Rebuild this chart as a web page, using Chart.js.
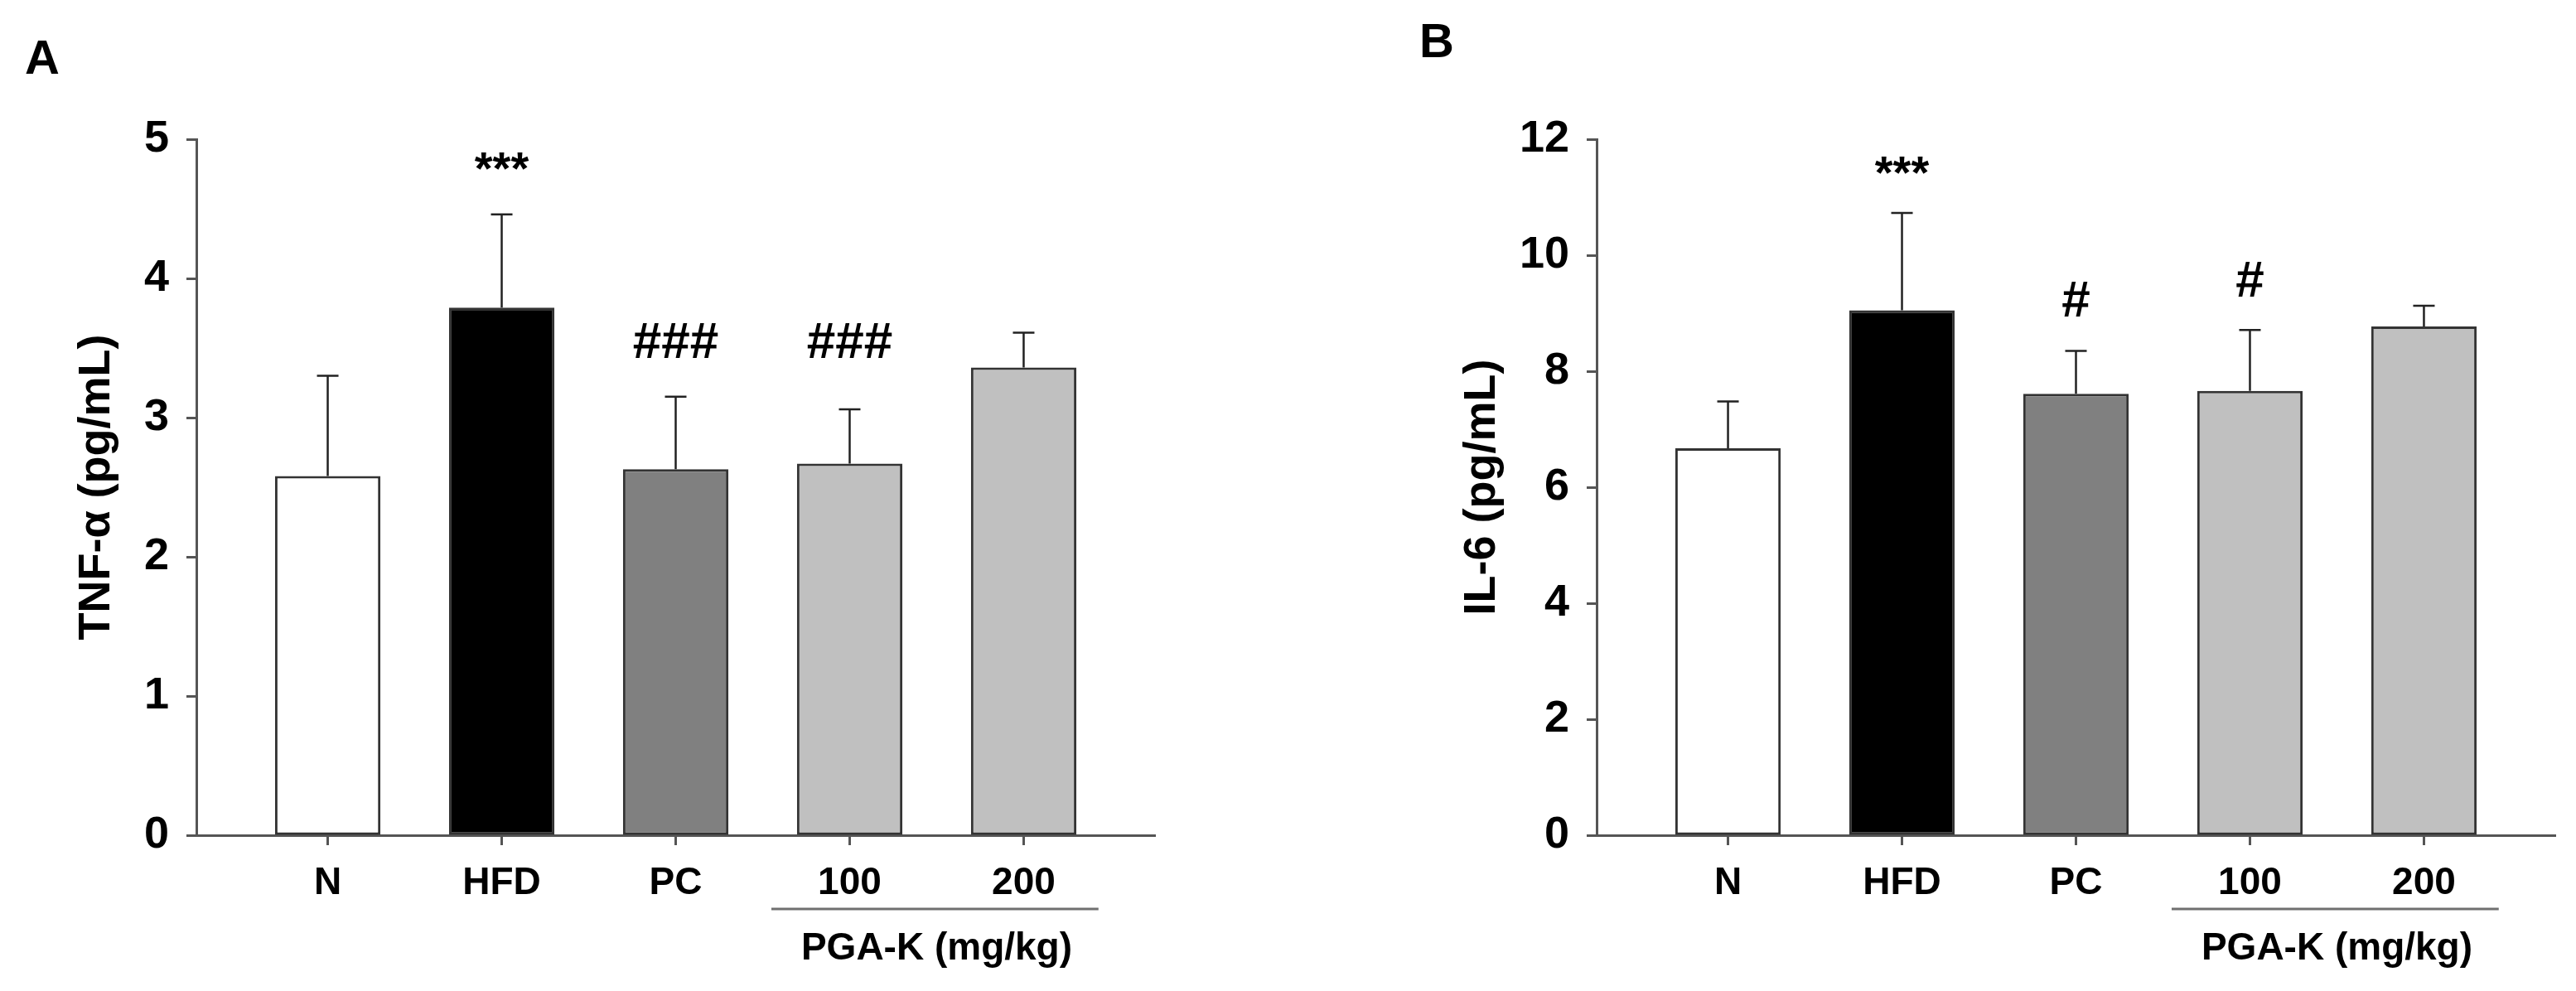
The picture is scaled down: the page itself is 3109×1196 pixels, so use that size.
<!DOCTYPE html>
<html>
<head>
<meta charset="utf-8">
<script src="https://cdn.jsdelivr.net/npm/chart.js@4.4.1/dist/chart.umd.min.js"></script>
<style>
    html, body { margin: 0; padding: 0; background: #fff; }
    body { width: 3109px; height: 1196px; position: relative; overflow: hidden; }
    canvas { position: absolute; top: 0; }
    .tag { position: absolute; font: bold 58px "Liberation Sans", Arial, sans-serif; line-height: 1; color: #000; }
</style>
</head>
<body>
<div class="tag" style="left:30px; top:40px;">A</div>
<div class="tag" style="left:1713px; top:20px;">B</div>
<canvas id="chartA" style="left:0px" width="1540" height="1196"></canvas>
<canvas id="chartB" style="left:1690px" width="1419" height="1196"></canvas>
<script>
// Groups on the x axis
const categories = ["N", "HFD", "PC", "100", "200"];
const groupLabel = "PGA-K (mg/kg)";

// Panel A: TNF-α, mean and upper SD
const tnfMean = [2.58, 3.79, 2.63, 2.67, 3.36];
const tnfSd = [0.72, 0.67, 0.52, 0.39, 0.25];
const tnfMarks = ["", "***", "###", "###", ""];
const tnfMarkLevel = [0, 4.68, 3.43, 3.43, 0];

// Panel B: IL-6, mean and upper SD
const il6Mean = [6.67, 9.05, 7.61, 7.66, 8.77];
const il6Sd = [0.81, 1.68, 0.74, 1.05, 0.36];
const il6Marks = ["", "***", "#", "#", ""];
const il6MarkLevel = [0, 11.16, 8.94, 9.29, 0];

const barFills = ["#ffffff", "#000000", "#808080", "#c0c0c0", "#c0c0c0"];
const FONT = "'Liberation Sans', Arial, sans-serif";
const AXIS = "#555555";

// error bars, significance marks and the PGA-K bracket
const extrasPlugin = {
    id: "extras",
    afterDatasetsDraw(chart, args, opts) {
        const { ctx } = chart;
        const x = chart.scales.x;
        const y = chart.scales.y;
        ctx.save();

        ctx.strokeStyle = "#222222";
        ctx.lineWidth = 2.5;
        opts.mean.forEach((m, i) => {
            const px = x.getPixelForValue(i);
            const y0 = y.getPixelForValue(m);
            const y1 = y.getPixelForValue(m + opts.sd[i]);
            ctx.beginPath();
            ctx.moveTo(px, y0);
            ctx.lineTo(px, y1);
            ctx.moveTo(px - 13, y1);
            ctx.lineTo(px + 13, y1);
            ctx.stroke();
        });

        ctx.fillStyle = "#000";
        ctx.textAlign = "center";
        ctx.textBaseline = "alphabetic";
        opts.marks.forEach((t, i) => {
            if (!t) return;
            ctx.font = (t[0] === "#" ? "bold 62px " : "bold 56px ") + FONT;
            ctx.fillText(t, x.getPixelForValue(i), y.getPixelForValue(opts.markLevel[i]));
        });

        // bracket under the two dose groups
        const lineY = y.bottom + 89;
        ctx.strokeStyle = "#707070";
        ctx.lineWidth = 3;
        ctx.beginPath();
        ctx.moveTo(x.getPixelForValue(2.55), lineY);
        ctx.lineTo(x.getPixelForValue(4.43), lineY);
        ctx.stroke();

        ctx.font = "bold 46px " + FONT;
        ctx.textBaseline = "middle";
        ctx.fillText(groupLabel, x.getPixelForValue(3.5), y.bottom + 137);
        ctx.restore();
    }
};

function makeChart(id, mean, sd, marks, markLevel, yMax, yStep, yTitle, padRight, titlePad) {
    const ctx = document.getElementById(id).getContext("2d");
    return new Chart(ctx, {
        type: "bar",
        data: {
            datasets: [{
                data: mean.map((v, i) => ({ x: i, y: v })),
                backgroundColor: barFills,
                borderColor: "#333333",
                borderWidth: 3,
                borderSkipped: false,
                barPercentage: 0.606,
                categoryPercentage: 1,
            }],
        },
        options: {
            responsive: false,
            animation: false,
            devicePixelRatio: 1,
            layout: { padding: { top: 168, right: padRight, bottom: 0, left: 0 } },
            plugins: {
                legend: { display: false },
                tooltip: { enabled: false },
                extras: { mean, sd, marks, markLevel },
            },
            scales: {
                x: {
                    type: "linear",
                    min: -0.755,
                    max: 4.755,
                    offset: false,
                    grid: { offset: false, drawOnChartArea: false, drawTicks: true, tickLength: 12, tickWidth: 3, tickColor: AXIS },
                    border: { display: true, color: AXIS, width: 3 },
                    afterBuildTicks: s => { s.ticks = categories.map((c, i) => ({ value: i })); },
                    ticks: {
                        callback: v => categories[v],
                        autoSkip: false,
                        maxRotation: 0,
                        padding: 19,
                        color: "#000",
                        font: { family: FONT, size: 46, weight: "bold" },
                    },
                    afterFit: s => { s.height = 188; },
                },
                y: {
                    min: 0,
                    max: yMax,
                    ticks: { stepSize: yStep, padding: 21, color: "#000", font: { family: FONT, size: 54, weight: "bold" } },
                    grid: { drawOnChartArea: false, tickLength: 12, tickWidth: 3, tickColor: AXIS },
                    border: { display: true, color: AXIS, width: 3 },
                    title: {
                        display: true,
                        text: yTitle,
                        color: "#000",
                        font: { family: FONT, size: 54, weight: "bold" },
                        padding: { top: titlePad, bottom: 0 },
                    },
                    afterFit: s => { s.width = 237; },
                },
            },
        },
        plugins: [extrasPlugin],
    });
}

makeChart("chartA", tnfMean, tnfSd, tnfMarks, tnfMarkLevel, 5, 1, "TNF-α (pg/mL)", 146, 85);
makeChart("chartB", il6Mean, il6Sd, il6Marks, il6MarkLevel, 12, 2, "IL-6 (pg/mL)", 25, 67);
</script>
</body>
</html>
